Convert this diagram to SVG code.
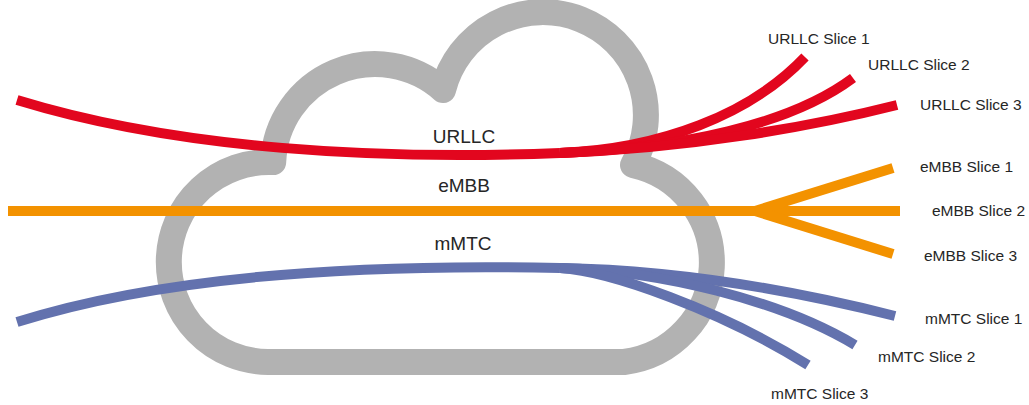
<svg xmlns="http://www.w3.org/2000/svg" width="1029" height="405" viewBox="0 0 1029 405">
<style>
.cloud{fill:none;stroke:#b2b2b2;stroke-width:26;stroke-linejoin:round}
.ln{fill:none;stroke-width:10;stroke-linecap:butt}
.r{stroke:#e2061e}.o{stroke:#f39200}.b{stroke:#6372ae}
text{font-family:"Liberation Sans",Arial,sans-serif;fill:#262626}
.big{font-size:19px;text-anchor:middle}
.sm{font-size:15.5px}
</style>
<rect width="1029" height="405" fill="#ffffff"/>
<g id="cloud">
<path class="cloud" d="M268,362 A100,100 0 1 1 273.2,162.1 A102,102 0 0 1 443,90 A103,103 0 1 1 633,165 A100,100 0 0 1 624,362 Z"/>
</g>
<g id="connectors">
<path class="ln r" d="M17,100 C180,150 380,160 560,153"/>
<path class="ln r" d="M560,153 C660,149 750,115 805,57"/>
<path class="ln r" d="M560,153 C680,148.3 790,125 853,78"/>
<path class="ln r" d="M560,153 C690,148 810,127 897,105"/>
<path class="ln o" d="M8,211 L900,211"/>
<path class="ln o" d="M755,211 L893,168"/>
<path class="ln o" d="M755,211 L893,254"/>
<path class="ln b" d="M17,322 C150,280 330,263 560,268"/>
<path class="ln b" d="M560,268 C680,270 800,292 895,316"/>
<path class="ln b" d="M560,268 C660,271 780,300 855,345"/>
<path class="ln b" d="M560,268 C610,271 720,310 808,365"/>
</g>
<g id="labels">
<text class="big" x="464" y="143">URLLC</text>
<text class="big" x="464" y="192">eMBB</text>
<text class="big" x="463" y="250">mMTC</text>
</g>
<g id="slices">
<text class="sm" x="768" y="44">URLLC Slice 1</text>
<text class="sm" x="868" y="70">URLLC Slice 2</text>
<text class="sm" x="920" y="110">URLLC Slice 3</text>
<text class="sm" x="920" y="172">eMBB Slice 1</text>
<text class="sm" x="932" y="216">eMBB Slice 2</text>
<text class="sm" x="924" y="261">eMBB Slice 3</text>
<text class="sm" x="925" y="324">mMTC Slice 1</text>
<text class="sm" x="878" y="362">mMTC Slice 2</text>
<text class="sm" x="771" y="399">mMTC Slice 3</text>
</g>
</svg>
